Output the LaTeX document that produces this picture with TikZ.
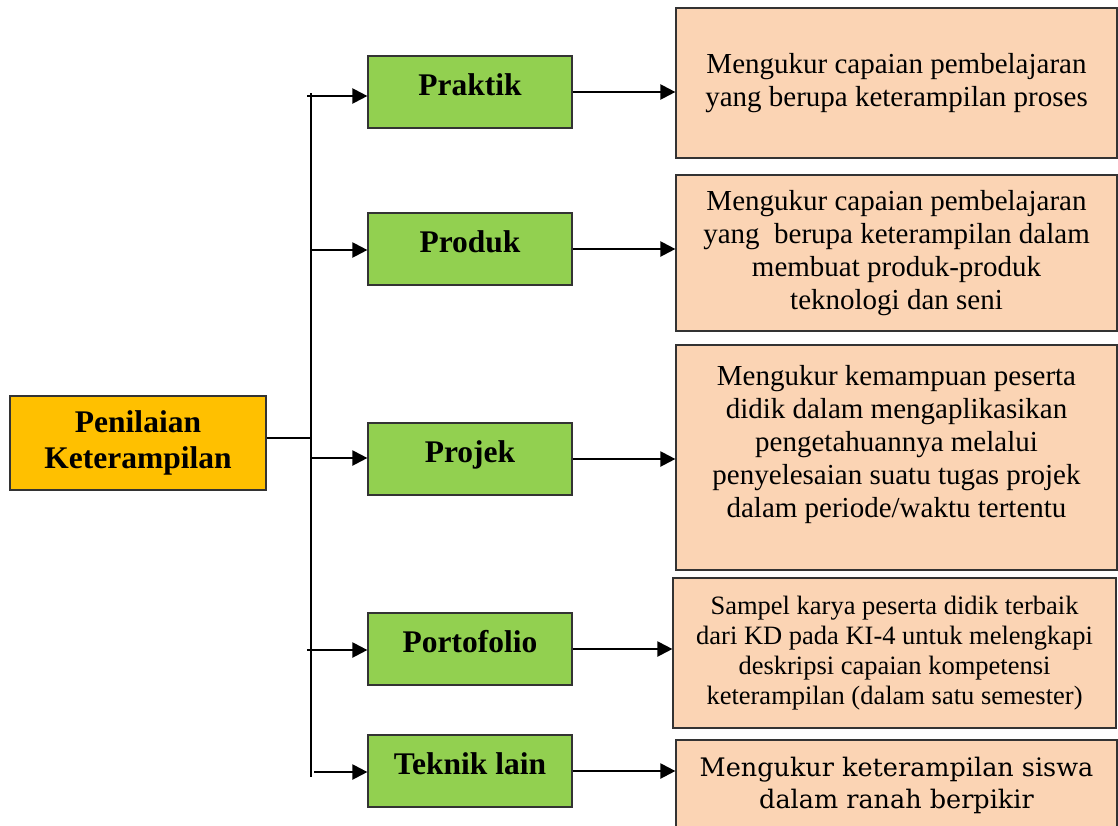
\documentclass[tikz,border=0pt]{standalone}
\usepackage{fontspec}
\setmainfont{Liberation Serif}
\newfontfamily\slabish{DejaVu Serif}
\usetikzlibrary{arrows.meta}
\definecolor{orangebox}{HTML}{FFC000}
\definecolor{greenbox}{HTML}{92D050}
\definecolor{peachbox}{HTML}{FBD4B4}
\definecolor{edge}{HTML}{333333}
\begin{document}
\begin{tikzpicture}[x=1pt,y=-1pt,
  lbox/.style={draw=edge, line width=1.2pt, fill=orangebox, minimum width=256pt, minimum height=94pt, inner sep=0pt, align=center, font=\fontsize{31.5}{36}\selectfont\bfseries},
  gbox/.style={draw=edge, line width=1.2pt, fill=greenbox, minimum width=204pt, minimum height=72pt, inner sep=0pt, text height=22pt, text depth=16pt, font=\fontsize{31.5}{36}\selectfont\bfseries},
  rbox/.style={draw=edge, line width=1.2pt, fill=peachbox, minimum width=441pt, inner sep=0pt, align=center, font=\fontsize{29}{33}\selectfont},
  conn/.style={line width=2.2pt, black},
  arr/.style={conn, -{Triangle[length=15pt,width=15pt]}}
]
\useasboundingbox (0,0) rectangle (1118,825);

% left box
\node[lbox] (pen) at (138,443) {Penilaian\\Keterampilan};

% green boxes
\node[gbox] (g1) at (470,92) {Praktik};
\node[gbox] (g2) at (470,249) {Produk};
\node[gbox] (g3) at (470,459) {Projek};
\node[gbox] (g4) at (470,649) {Portofolio};
\node[gbox] (g5) at (470,771) {Teknik lain};

% right boxes
\node[rbox, minimum height=150pt] (r1) at (896.5,83) {Mengukur capaian pembelajaran\\yang berupa keterampilan proses};
\node[rbox, minimum height=156pt] (r2) at (896.5,253) {Mengukur capaian pembelajaran\\yang\ \ berupa keterampilan dalam\\membuat produk-produk\\teknologi dan seni};
\node[rbox, minimum height=225pt] (r3) at (896.5,457.5) {Mengukur kemampuan peserta\\didik dalam mengaplikasikan\\pengetahuannya melalui\\penyelesaian suatu tugas projek\\dalam periode/waktu tertentu\\ \mbox{}};
\node[rbox, minimum height=150pt, minimum width=443pt, font=\fontsize{26.5}{30}\selectfont] (r4) at (894.5,653) {Sampel karya peserta didik terbaik\\dari KD pada KI-4 untuk melengkapi\\deskripsi capaian kompetensi\\keterampilan (dalam satu semester)};
\node[rbox, minimum height=90pt, font=\fontsize{25.5}{32}\selectfont\slabish] (r5) at (896.5,785) {Mengukur keterampilan siswa\\dalam ranah berpikir};

% trunk
\coordinate (ttop) at (311,93);
\coordinate (tbot) at (311,777);
\coordinate (tj) at (311,438);
\draw[conn] (ttop) -- (tbot);
\draw[conn] (pen.east |- tj) -- (tj);

% branch arrows
\coordinate (s1) at (307,96);
\coordinate (s2) at (311,250);
\coordinate (s3) at (311,458);
\coordinate (s4) at (307,650);
\coordinate (s5) at (314,772);
\draw[arr] (s1) -- (s1 -| g1.west);
\draw[arr] (s2) -- (s2 -| g2.west);
\draw[arr] (s3) -- (s3 -| g3.west);
\draw[arr] (s4) -- (s4 -| g4.west);
\draw[arr] (s5) -- (s5 -| g5.west);

% output arrows
\draw[arr] (g1.east) -- (g1.east -| r1.west);
\draw[arr] (g2.east) -- (g2.east -| r2.west);
\draw[arr] (g3.east) -- (g3.east -| r3.west);
\draw[arr] (g4.east) -- (g4.east -| r4.west);
\draw[arr] (g5.east) -- (g5.east -| r5.west);
\end{tikzpicture}
\end{document}
